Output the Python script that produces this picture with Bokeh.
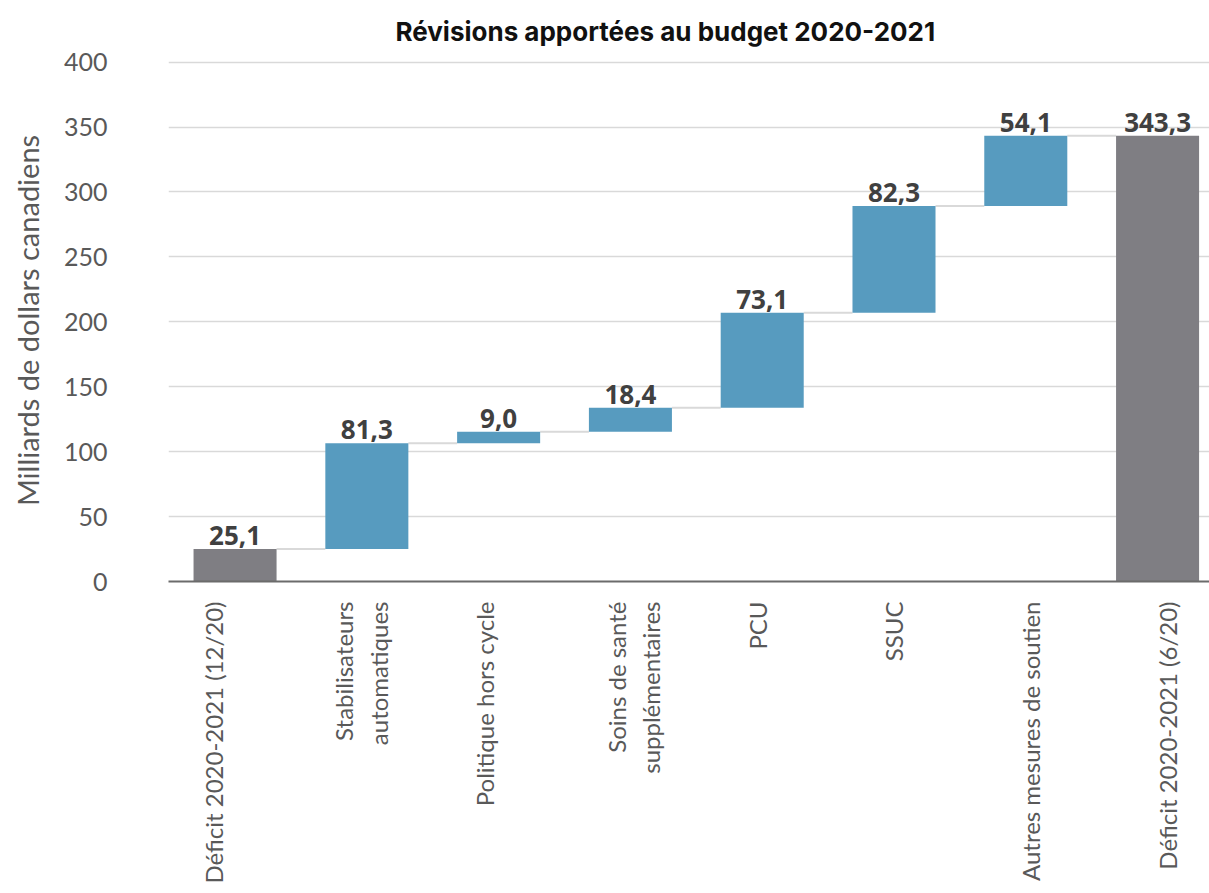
import math
from bokeh.plotting import figure
from bokeh.models import Range1d, FixedTicker, ColumnDataSource, LabelSet, Title
from bokeh.core.properties import value
from bokeh.embed import file_html
from bokeh.resources import INLINE

# Budget revisions, billions of Canadian dollars
categories = [
    "Déficit 2020-2021 (12/20)",
    "Stabilisateurs\nautomatiques",
    "Politique hors cycle",
    "Soins de santé\nsupplémentaires",
    "PCU",
    "SSUC",
    "Autres mesures de soutien",
    "Déficit 2020-2021 (6/20)",
]
values = [25.1, 81.3, 9.0, 18.4, 73.1, 82.3, 54.1, 343.3]
kinds = ["total", "delta", "delta", "delta", "delta", "delta", "delta", "total"]
y_ticks = [0, 50, 100, 150, 200, 250, 300, 350, 400]
title_text = "Révisions apportées au budget 2020-2021"

BLUE = "#579bbf"
GRAY = "#7f7e83"
BAR_W = 0.63
PX_PER_CAT = 131.8
# horizontal nudge (pixels) of each category label
LABEL_NUDGE = [-22, -6, -14, 3, -5, 0, 5, 10]

# waterfall geometry
xs, bottoms, tops, colors, texts = [], [], [], [], []
running = 0.0
for i, (v, k) in enumerate(zip(values, kinds)):
    if k == "total":
        b, t = 0.0, v
        running = v
        colors.append(GRAY)
    else:
        b, t = running, running + v
        running = t
        colors.append(BLUE)
    xs.append(i)
    bottoms.append(b)
    tops.append(t)
    texts.append(f"{v:.1f}".replace(".", ","))

src = ColumnDataSource(dict(x=xs, bottom=bottoms, top=tops, color=colors, text=texts))

# connectors from each bar's top to the next bar
cx0 = [i + BAR_W / 2 for i in range(len(values) - 1)]
cx1 = [i + 1 - BAR_W / 2 for i in range(len(values) - 1)]
cy = tops[:-1]

p = figure(
    width=1209, height=893,
    x_range=Range1d(-0.505, 7.394), y_range=Range1d(0, 402),
    output_backend="svg", toolbar_location=None,
    min_border_left=168, min_border_right=0, min_border_top=58, min_border_bottom=312,
)
p.background_fill_color = "white"
p.border_fill_color = "white"
p.outline_line_color = None

p.title = Title(text=title_text, align="left", offset=227,
                text_font="Inter", text_font_style="bold", text_font_size="26px",
                text_color="#111111", standoff=26)

p.xgrid.grid_line_color = None
p.ygrid.grid_line_color = "#d9d9d9"
p.ygrid.grid_line_width = 1.5
p.ygrid.ticker = FixedTicker(ticks=y_ticks)

p.segment(x0=cx0, y0=cy, x1=cx1, y1=cy, line_color="#d9d9d9", line_width=2)
p.vbar(x="x", bottom="bottom", top="top", width=BAR_W, fill_color="color",
       line_color=None, source=src)

labels = LabelSet(x="x", y="top", text="text", source=src, text_align="center",
                  text_baseline="bottom", y_offset=4, text_font=value("Open Sans"),
                  text_font_style="bold", text_font_size="26px", text_color="#404040")
p.add_layout(labels)

# y axis
ya = p.yaxis[0]
ya.ticker = FixedTicker(ticks=y_ticks)
ya.axis_line_color = None
ya.major_tick_line_color = None
ya.minor_tick_line_color = None
ya.major_label_text_font = "Lato"
ya.major_label_text_font_size = "25px"
ya.major_label_text_color = "#595959"
ya.major_label_standoff = 55
ya.axis_label = "Milliards de dollars canadiens"
ya.axis_label_text_font = "Lato"
ya.axis_label_text_font_style = "normal"
ya.axis_label_text_font_size = "29px"
ya.axis_label_text_color = "#595959"
ya.axis_label_standoff = 16

# x axis: category labels at nudged positions
label_pos = [round(i + d / PX_PER_CAT, 4) for i, d in enumerate(LABEL_NUDGE)]
xa = p.xaxis[0]
xa.ticker = FixedTicker(ticks=label_pos)
xa.major_label_overrides = {pos: c for pos, c in zip(label_pos, categories)}
xa.major_label_orientation = math.pi / 2
xa.axis_line_color = "#6b6b6b"
xa.axis_line_width = 2
xa.major_tick_line_color = None
xa.minor_tick_line_color = None
xa.major_label_text_font = "Lato"
xa.major_label_text_font_size = "24px"
xa.major_label_text_color = "#595959"
xa.major_label_standoff = 14

open("out.html", "w").write(file_html(p, INLINE))
